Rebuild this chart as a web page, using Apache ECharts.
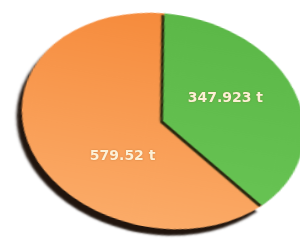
<!DOCTYPE html>
<html>
<head>
<meta charset="utf-8">
<script src="https://cdn.jsdelivr.net/npm/echarts@6/dist/echarts.min.js"></script>
<style>
    html, body { margin: 0; padding: 0; background: #ffffff; }
    #wrap { position: relative; width: 300px; height: 250px; overflow: hidden; }
    #pie_shape, #pie_label { position: absolute; left: 0; top: 0; width: 300px; height: 250px; }
    /* tilt the round pie into an ellipse so it looks like the 3d original */
    #pie_shape { transform-origin: 163px 121px; transform: rotate(10deg) scale(1.33, 1); }
</style>
</head>
<body>
<div id="wrap">
    <div id="pie_shape"></div>
    <div id="pie_label"></div>
</div>
<script>
var categories = ['orange', 'green'];
var values = [579.52, 347.923];
var valueText = ['579.52 t', '347.923 t'];
var colors = [
    ['#f68b3c', '#fbab68'],
    ['#5cb848', '#67c353']
];

function buildData(withStyle) {
    var data = [];
    for (var i = 0; i < values.length; i++) {
        var item = { name: categories[i], value: values[i], label: { formatter: valueText[i] } };
        if (withStyle) {
            item.itemStyle = {
                color: new echarts.graphic.LinearGradient(0, 0, 0, 1, [
                    { offset: 0, color: colors[i][0] },
                    { offset: 1, color: colors[i][1] }
                ]),
                shadowColor: i == 0 ? 'rgba(20,8,0,0.95)' : 'rgba(15,25,5,0.9)',
                shadowBlur: i == 0 ? 2 : 1,
                shadowOffsetX: i == 0 ? -3 : -2,
                shadowOffsetY: i == 0 ? 7 : 2
            };
        } else {
            item.itemStyle = { color: 'rgba(0,0,0,0)' };
        }
        data.push(item);
    }
    return data;
}

// 饼图本体（被 css 压成椭圆）
var shapeChart = echarts.init(document.getElementById('pie_shape'));
shapeChart.setOption({
    animation: false,
    series: [{
        type: 'pie',
        center: [163, 121],
        radius: 107,
        startAngle: 97,
        clockwise: false,
        silent: true,
        label: { show: false },
        labelLine: { show: false },
        data: buildData(true)
    }]
});

// 文字单独一层，不变形
var labelChart = echarts.init(document.getElementById('pie_label'));
labelChart.setOption({
    animation: false,
    series: [{
        type: 'pie',
        center: [174, 127],
        radius: 112,
        startAngle: 97,
        clockwise: false,
        silent: true,
        label: {
            show: true,
            position: 'inside',
            color: '#fdf0d6',
            fontFamily: 'DejaVu Sans',
            fontWeight: 'bold',
            fontSize: 14,
            textShadowColor: 'rgba(120,60,0,0.35)',
            textShadowBlur: 2
        },
        labelLine: { show: false },
        data: buildData(false)
    }]
});
</script>
</body>
</html>
